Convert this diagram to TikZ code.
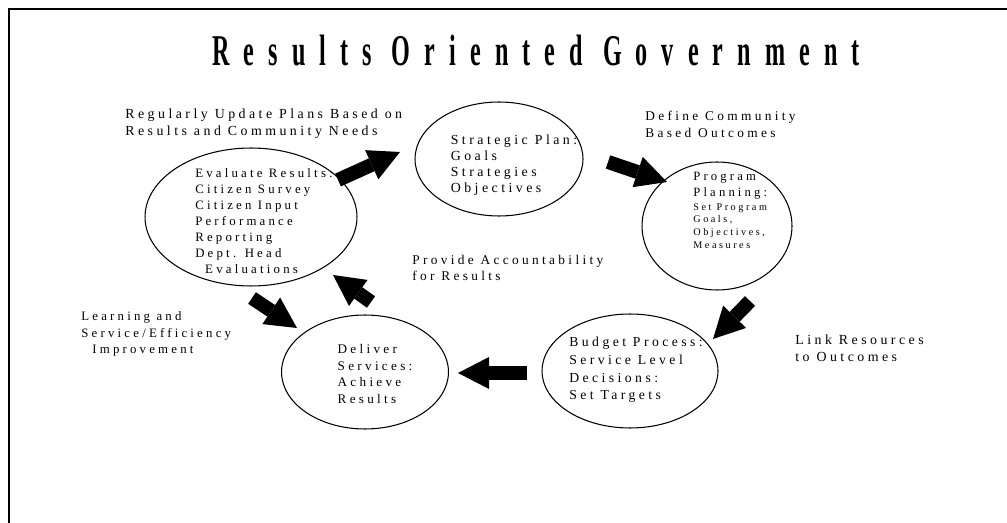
\documentclass[tikz,border=0pt]{standalone}
\usepackage{fontspec}
\setmainfont{Liberation Serif}
\newfontfamily\spacedfont[LetterSpace=25]{Liberation Serif}
\newfontfamily\titlefont[LetterSpace=32,FakeStretch=0.55]{Liberation Serif}
\usetikzlibrary{arrows.meta,shapes.geometric}
\newcommand\smalltxt[1]{{\fontsize{5.8}{7.9}\selectfont #1}}

\begin{document}
\begin{tikzpicture}[
  x=0.02cm, y=-0.02cm,
  ring/.style={draw, ellipse, line width=0.6pt, inner sep=0pt},
  body/.style 2 args={font=\spacedfont\fontsize{#1}{#2}\selectfont,
               align=left, inner sep=0pt},
  bigarrow/.style={line width=0.28cm,
                   -{Triangle[length=0.62cm, width=0.64cm, line width=0pt]}},
]
\useasboundingbox (0,0) rectangle (1007,523);

%% ---- Frame ----
\draw[line width=1.1pt] (9,523) -- (9,9) -- (1007,9);

%% ---- Title ----
\node[font=\titlefont\bfseries\fontsize{25}{27}\selectfont] (title) at (536,51)
  {Results Oriented Government};

%% ---- Cycle stages ----
\node[ring, minimum width=4.24cm, minimum height=2.76cm] (eval) at (251,217) {};
\node[ring, minimum width=3.36cm, minimum height=2.28cm] (strat) at (499,159) {};
\node[ring, minimum width=3.0cm, minimum height=2.56cm] (prog) at (717,226) {};
\node[ring, minimum width=3.52cm, minimum height=2.28cm] (budget) at (630,371) {};
\node[ring, minimum width=3.34cm, minimum height=2.28cm] (deliver) at (365,372) {};

\node[body={7.3}{9.1}] (evaltxt) at (264,221)
  {Evaluate Results:\\Citizen Survey\\Citizen Input\\Performance\\Reporting\\Dept. Head\\\hspace*{0.2cm}Evaluations};
\node[body={7.9}{9.2}] (strattxt) at (514,165)
  {Strategic Plan:\\Goals\\Strategies\\Objectives};
\node[body={7.2}{9.2}, anchor=north west] (progtxt) at (693,172)
  {Program\\Planning:\\[-1.6pt]\smalltxt{Set Program}\\[-2pt]\smalltxt{Goals,}\\[-2pt]\smalltxt{Objectives,}\\[-2pt]\smalltxt{Measures}};
\node[body={7.8}{10}] (budgettxt) at (636,370)
  {Budget Process:\\Service Level\\Decisions:\\Set Targets};
\node[body={7.5}{9.6}] (delivertxt) at (375,374)
  {Deliver\\Services:\\Achieve\\Results};

%% ---- Side notes ----
\node[body={7.9}{9.6}, anchor=west] (update) at (125,124)
  {Regularly Update Plans Based on\\Results and Community Needs};
\node[body={7.6}{9.6}, anchor=west] (define) at (645,124)
  {Define Community\\Based Outcomes};
\node[body={7.6}{9.6}, anchor=west] (account) at (412,268)
  {Provide Accountability\\for Results};
\node[body={7.3}{9.6}, anchor=west] (learn) at (81,334)
  {Learning and\\Service/Efficiency\\\hspace*{0.22cm}Improvement};
\node[body={7.9}{9.6}, anchor=west] (link) at (795,348)
  {Link Resources\\to Outcomes};

%% ---- Block arrows ----
\draw[bigarrow] ([shift={(87,-37)}]eval.center) -- ([shift={(-99,-7)}]strat.center);
\draw[bigarrow] ([shift={(109,3)}]strat.center) -- ([shift={(-50,-44)}]prog.center);
\draw[bigarrow] ([shift={(33,75)}]prog.center) -- ([shift={(83,-32)}]budget.center);
\draw[bigarrow] ([shift={(-103,2)}]budget.center) -- ([shift={(93,1)}]deliver.center);
\draw[bigarrow] ([shift={(6,-70)}]deliver.center) -- ([shift={(82,58)}]eval.center);
\draw[bigarrow] ([shift={(1,81)}]eval.center) -- ([shift={(-68,-44)}]deliver.center);

\end{tikzpicture}
\end{document}
